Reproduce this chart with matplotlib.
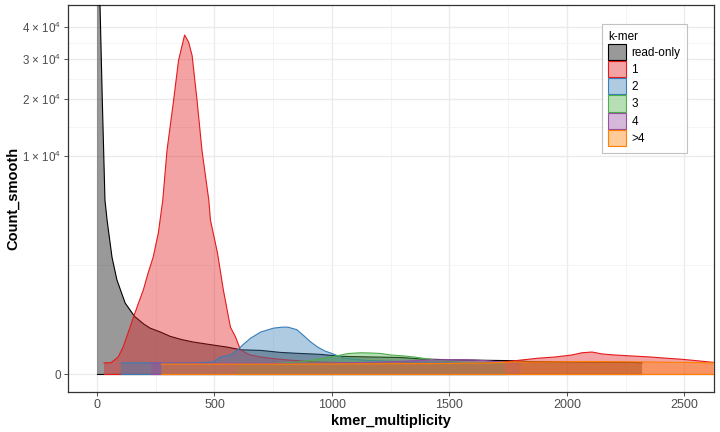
import numpy as np
import matplotlib.pyplot as plt
from matplotlib.patches import Patch

plt.rcParams['font.family'] = ['Liberation Sans', 'DejaVu Sans']
plt.rcParams['mathtext.fontset'] = 'custom'
plt.rcParams['mathtext.rm'] = 'Liberation Sans'
plt.rcParams['mathtext.it'] = 'Liberation Sans:italic'
plt.rcParams['mathtext.bf'] = 'Liberation Sans:bold'

# kmer spectrum, values
ro_x = [0, 13, 23, 34, 43, 64, 85, 120, 160, 200, 226, 270, 312, 360, 410, 470, 556,
        611, 697, 780, 838, 953, 1040, 1150, 1295, 1380, 1480, 1600, 1765, 1850, 2000, 2150, 2320]
ro_y = [100000, 47800, 19000, 5040, 3500, 1530, 800, 345, 185, 120, 94, 72, 52, 40, 32, 26, 19,
        14, 13, 10, 9, 7.5, 5.5, 5, 4.5, 3.4, 3.0, 2.7, 2.4, 1.9, 1.8, 1.8, 1.5]

k1_x = [30, 60, 90, 111, 132, 154, 175, 197, 218, 239, 261, 280, 298, 326, 347, 373, 390, 405,
        426, 447, 476, 483, 513, 538, 568, 590, 611, 650, 697, 760, 812, 900, 1000, 1200, 1400,
        1500, 1667, 1750, 1808, 1880, 1949, 2020, 2064, 2107, 2150, 2205, 2280, 2350, 2420, 2491,
        2560, 2625]
k1_y = [1.4, 1.5, 4.9, 19, 67, 170, 330, 569, 1000, 1530, 2680, 5040, 10700, 19600, 29500,
        37300, 35000, 30900, 19600, 10700, 5040, 3500, 1700, 569, 100, 49, 13.6, 7, 4.9, 3.5,
        2.8, 2.0, 1.6, 1.4, 1.4, 1.5, 1.4, 2.0, 2.8, 4.0, 4.9, 6.8, 9.5, 10.5, 8, 6.8, 5.8, 5,
        4.0, 3.2, 2.3, 1.6]

k2_x = [102, 200, 300, 410, 496, 526, 568, 598, 620, 654, 697, 752, 790, 812, 850, 880, 910,
        940, 970, 996, 1050, 1150, 1300, 1500, 1735]
k2_y = [1.4, 1.4, 1.4, 1.4, 1.8, 4.9, 6.8, 13.6, 24, 45, 72, 94, 100, 100, 85, 55, 32,
        19, 12, 9, 4, 2.5, 2, 1.5, 1.2]

k3_x = [600, 750, 868, 930, 996, 1068, 1120, 1167, 1210, 1252, 1300, 1350, 1410, 1466, 1550,
        1650, 1735]
k3_y = [1.0, 1.2, 1.8, 3.0, 4.9, 8.5, 9.5, 9.2, 8.5, 6.8, 6.0, 4.9, 3.4, 2.2, 1.6, 1.3, 1.2]

k4_x = [231, 400, 600, 800, 1000, 1150, 1252, 1350, 1423, 1500, 1600, 1667, 1735, 1800]
k4_y = [1.3, 1.3, 1.2, 1.2, 1.4, 1.6, 1.9, 2.4, 2.8, 3.0, 2.8, 2.3, 1.6, 1.2]

k5_x = [274, 500, 800, 1200, 1500, 1667, 1778, 1900, 2100, 2300, 2500, 2625]
k5_y = [1.0, 1.0, 1.0, 1.1, 1.2, 1.4, 1.8, 1.8, 2.0, 1.8, 1.6, 1.4]

labels = ['read-only', '1', '2', '3', '4', '>4']
colors = ['#000000', '#E41A1C', '#377EB8', '#4DAF4A', '#984EA3', '#FF7F00']
series = [(ro_x, ro_y), (k1_x, k1_y), (k2_x, k2_y), (k3_x, k3_y), (k4_x, k4_y), (k5_x, k5_y)]

fig = plt.figure(figsize=(7.2, 4.32), dpi=100)
ax = fig.add_axes([0.0939, 0.0919, 0.8974, 0.8958])

ax.set_yscale('function', functions=(np.cbrt, lambda v: v ** 3))

for i, ((xs, ys), c) in enumerate(zip(series, colors)):
    xs = np.array(xs, dtype=float)
    ys = np.array(ys, dtype=float)
    ax.fill_between(xs, 0, ys, facecolor=c, alpha=0.4, linewidth=0, zorder=3 + i)
    ax.plot(xs, ys, color=c, lw=0.8, zorder=3 + i)
    ax.plot([xs[0], xs[-1]], [0, 0], color=c, lw=0.8, zorder=3 + i)

ax.set_xlim(-125, 2625)
ax.set_ylim(-5.6, 47980)

ax.set_xticks([0, 500, 1000, 1500, 2000, 2500])
ax.set_xticks([250, 750, 1250, 1750, 2250], minor=True)
ax.set_yticks([0, 1e4, 2e4, 3e4, 4e4])
ax.set_yticklabels(['0', '1 × 10$^{4}$', '2 × 10$^{4}$', '3 × 10$^{4}$', '4 × 10$^{4}$'])
ymin = [((np.cbrt(a) + np.cbrt(b)) / 2) ** 3 for a, b in [(0, 1e4), (1e4, 2e4), (2e4, 3e4), (3e4, 4e4)]]
ax.set_yticks(ymin, minor=True)

ax.grid(True, which='major', color='#EBEBEB', lw=1.0, zorder=0)
ax.grid(True, which='minor', color='#F2F2F2', lw=0.6, zorder=0)
ax.set_axisbelow(True)
ax.tick_params(which='major', length=3, width=0.6, color='#333333', labelsize=9,
               labelcolor='#4D4D4D', pad=2)
ax.tick_params(axis='y', which='major', labelsize=8.4)
ax.tick_params(which='minor', length=0)
for s in ax.spines.values():
    s.set_color('#333333')
    s.set_linewidth(0.9)

ax.set_xlabel('kmer_multiplicity', fontsize=10.5, fontweight='bold', labelpad=2)
ax.set_ylabel('Count_smooth', fontsize=10.5, fontweight='bold')
ax.yaxis.set_label_coords(-0.074, 0.5)

handles = []
for c in colors:
    r, g, b = [int(c[j:j + 2], 16) / 255 for j in (1, 3, 5)]
    handles.append(Patch(facecolor=(r, g, b, 0.4), edgecolor=(r, g, b, 1), linewidth=0.8))
leg = fig.legend(handles, labels, title='k-mer', loc='upper left',
                 bbox_to_anchor=(0.836, 0.944), bbox_transform=fig.transFigure,
                 fontsize=8.5, title_fontsize=8.5, frameon=True, fancybox=False,
                 handlelength=1.45, handleheight=1.75, labelspacing=0.08, handletextpad=0.5,
                 borderpad=0.55, alignment='left', borderaxespad=0)
leg.get_frame().set_edgecolor('#B3B3B3')
leg.get_frame().set_linewidth(0.8)

fig.savefig('out.png', dpi=100)
